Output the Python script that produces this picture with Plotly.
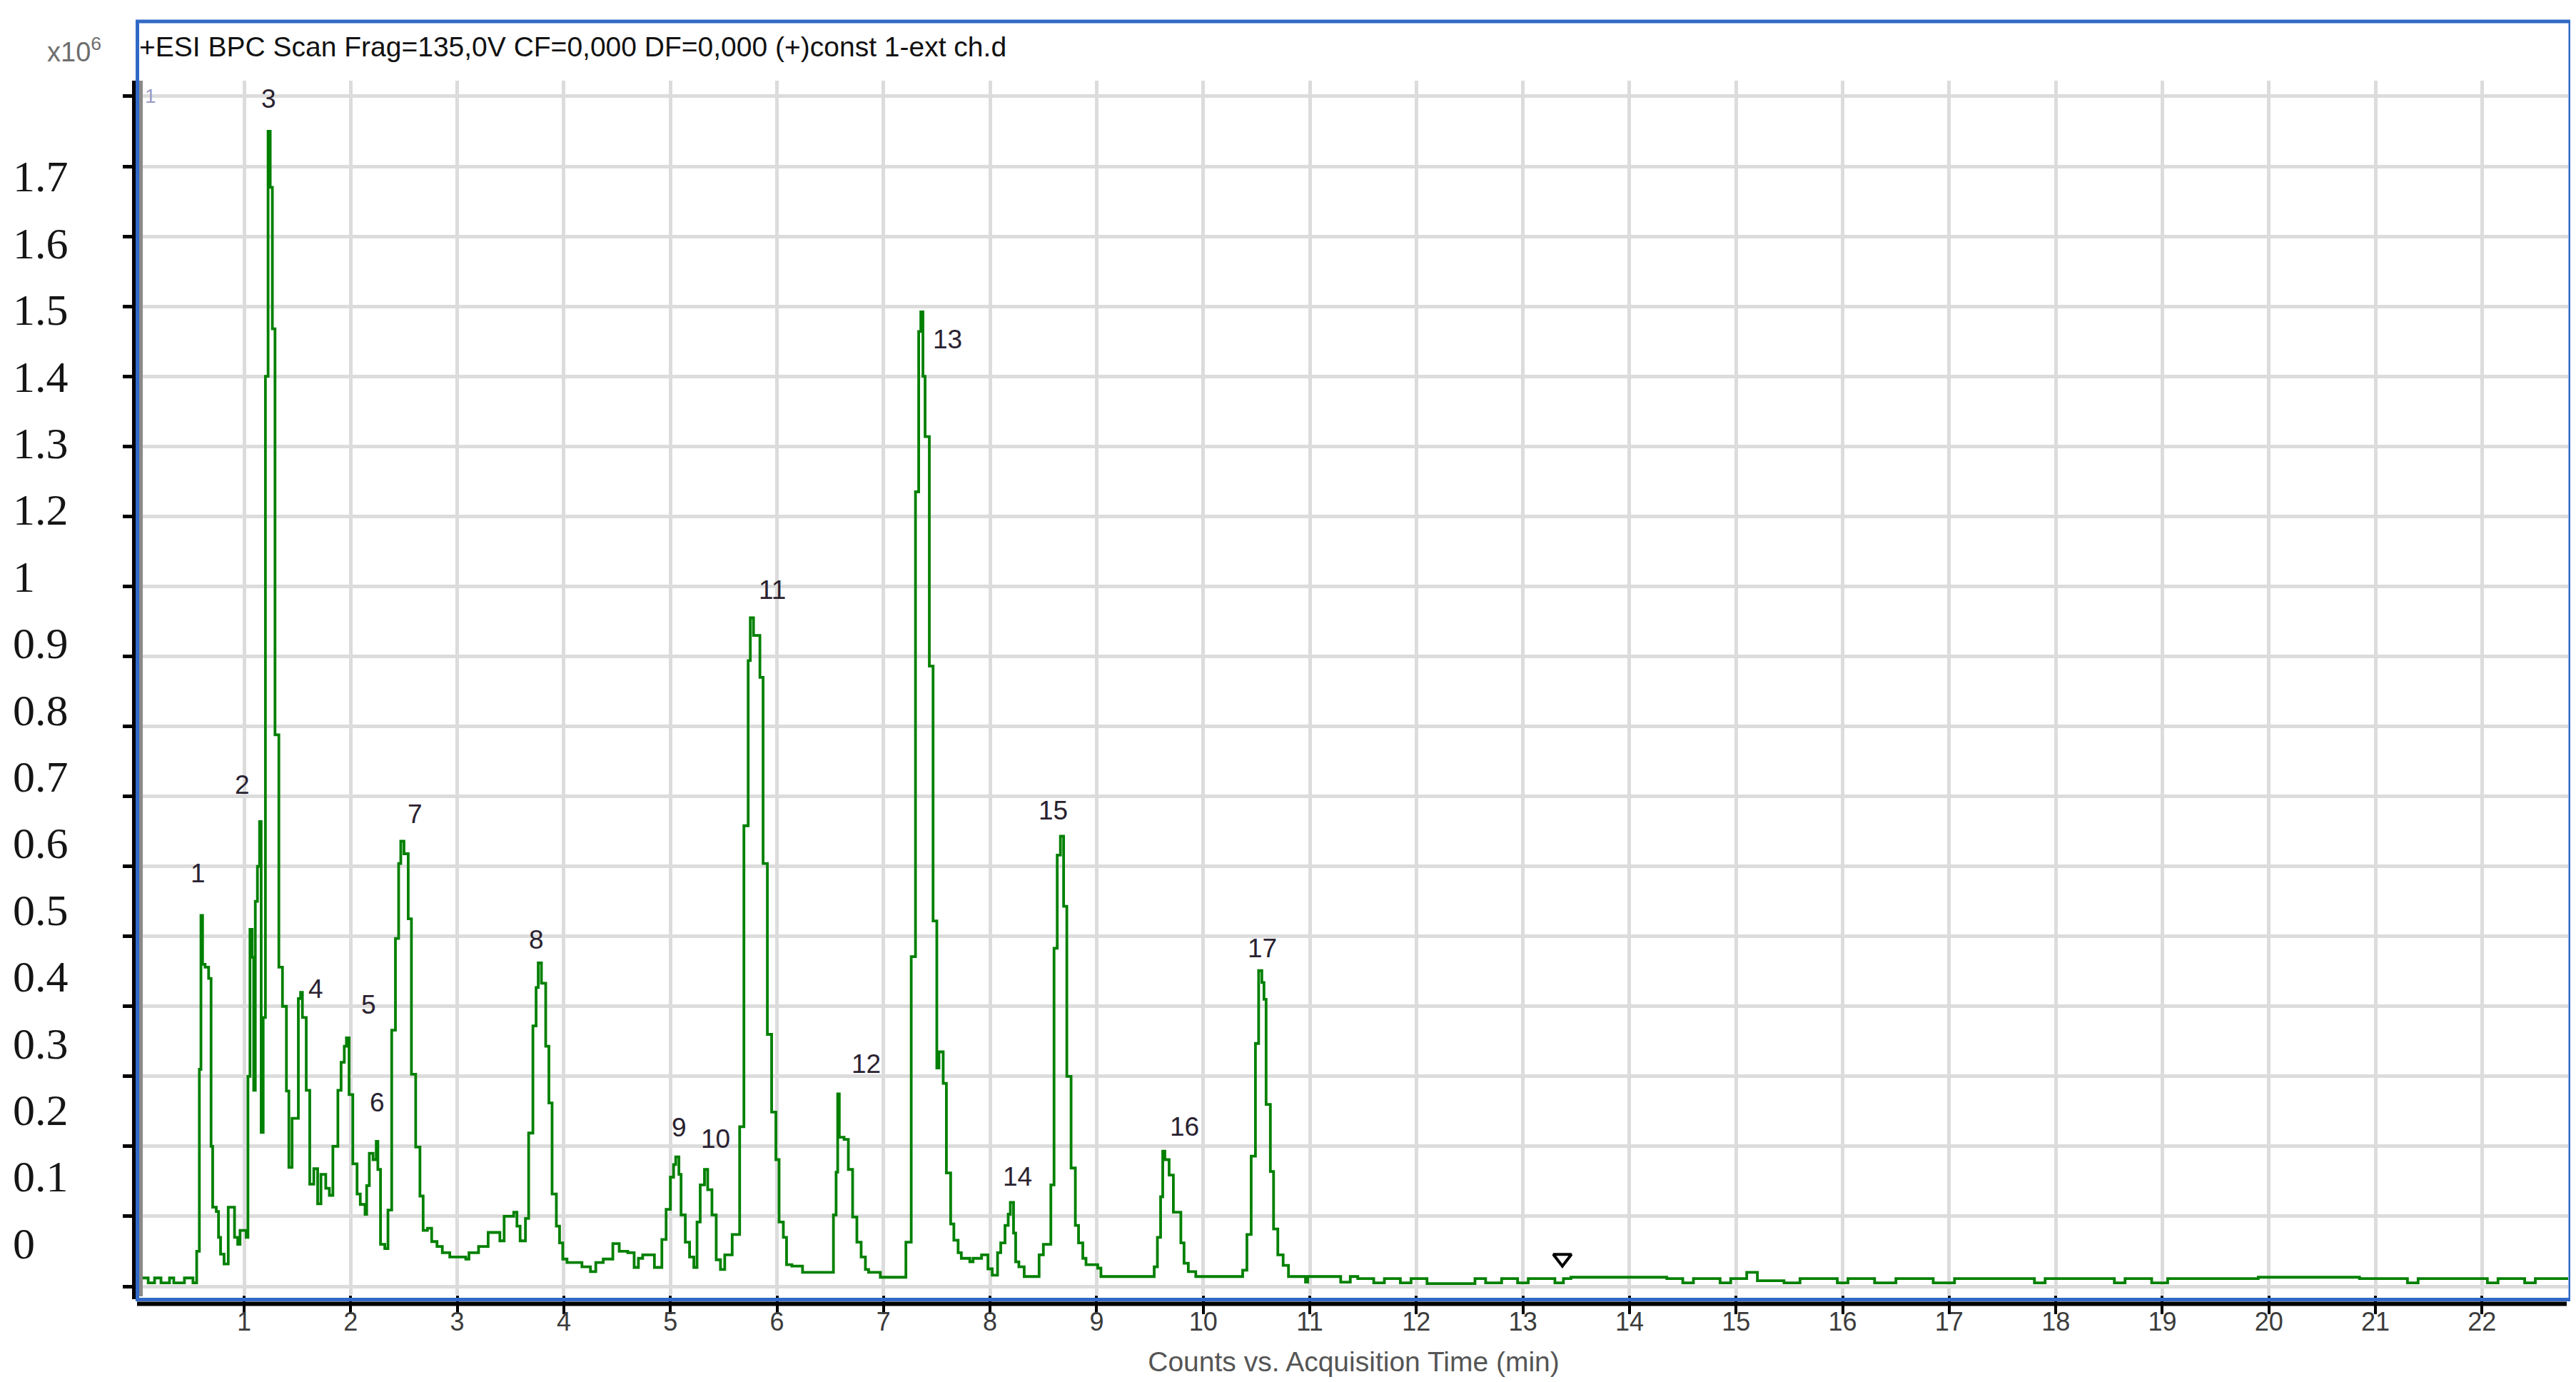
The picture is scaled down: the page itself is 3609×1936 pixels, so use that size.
import plotly.graph_objects as go

# ---------------- data (counts in units of 1e6, time in minutes) ----------------
time_min = [
    0.02, 0.10, 0.16, 0.22, 0.30, 0.34, 0.44, 0.52,
    0.555, 0.58, 0.595, 0.61, 0.634, 0.667, 0.69, 0.705, 0.739, 0.76, 0.779, 0.812,
    0.851, 0.91, 0.94, 0.962, 1.02, 1.036, 1.055, 1.075, 1.09, 1.105, 1.125, 1.145,
    1.16, 1.179, 1.20, 1.225, 1.245, 1.265, 1.29, 1.326, 1.36, 1.397, 1.42, 1.45,
    1.475, 1.509, 1.53, 1.547, 1.583, 1.616, 1.654, 1.69, 1.721, 1.766, 1.80, 1.833,
    1.88, 1.91, 1.94, 1.96, 1.985, 2.02, 2.06, 2.09, 2.135, 2.15, 2.175, 2.21,
    2.24, 2.255, 2.28, 2.32, 2.35, 2.385, 2.42, 2.45, 2.47, 2.50, 2.54, 2.57,
    2.61, 2.65, 2.68, 2.72, 2.76, 2.81, 2.86, 2.93, 3.08, 3.11, 3.20, 3.29,
    3.40, 3.44, 3.53, 3.56, 3.59, 3.64, 3.67, 3.71, 3.74, 3.76, 3.79, 3.83,
    3.86, 3.89, 3.93, 3.96, 3.99, 4.03, 4.17, 4.25, 4.30, 4.37, 4.46, 4.52,
    4.60, 4.66, 4.70, 4.74, 4.82, 4.85, 4.92, 4.96, 5.00, 5.03, 5.05, 5.08,
    5.10, 5.14, 5.18, 5.22, 5.25, 5.28, 5.32, 5.35, 5.39, 5.43, 5.47, 5.51,
    5.58, 5.65, 5.69, 5.73, 5.75, 5.78, 5.84, 5.87, 5.91, 5.95, 5.99, 6.02,
    6.06, 6.09, 6.14, 6.24, 6.49, 6.53, 6.555, 6.57, 6.585, 6.63, 6.67, 6.71,
    6.75, 6.79, 6.83, 6.86, 6.97, 7.21, 7.26, 7.30, 7.33, 7.35, 7.37, 7.39,
    7.43, 7.465, 7.50, 7.52, 7.56, 7.59, 7.63, 7.66, 7.70, 7.73, 7.81, 7.84,
    7.92, 7.98, 8.02, 8.07, 8.10, 8.14, 8.17, 8.19, 8.22, 8.24, 8.27, 8.32,
    8.46, 8.50, 8.57, 8.60, 8.63, 8.66, 8.69, 8.72, 8.76, 8.80, 8.83, 8.87,
    8.90, 9.01, 9.04, 9.54, 9.57, 9.60, 9.62, 9.64, 9.68, 9.72, 9.79, 9.82,
    9.86, 9.93, 10.37, 10.41, 10.45, 10.49, 10.52, 10.55, 10.57, 10.59, 10.63, 10.66,
    10.70, 10.75, 10.80, 10.96, 10.98, 11.29, 11.38, 11.45, 11.60, 11.70, 11.85, 11.95,
    12.10, 12.55, 12.65, 12.80, 12.95, 13.05, 13.30, 13.38, 13.45, 14.35, 14.50, 14.60,
    14.85, 14.95, 15.10, 15.20, 15.45, 15.60, 15.95, 16.05, 16.30, 16.50, 16.85, 17.05,
    17.80, 17.90, 18.55, 18.65, 18.90, 19.05, 19.90, 20.85, 21.30, 21.40, 22.05, 22.15,
    22.40, 22.50, 22.81,
]
counts_1e6 = [
    0.012, 0.005, 0.012, 0.005, 0.012, 0.005, 0.012, 0.005,
    0.050, 0.310, 0.530, 0.460, 0.456, 0.440, 0.200, 0.113, 0.107, 0.070, 0.046, 0.032,
    0.113, 0.070, 0.060, 0.080, 0.070, 0.300, 0.510, 0.470, 0.280, 0.550, 0.600, 0.664,
    0.220, 0.384, 1.300, 1.650, 1.570, 1.368, 0.788, 0.456, 0.400, 0.279, 0.170, 0.240,
    0.240, 0.411, 0.420, 0.384, 0.280, 0.146, 0.168, 0.118, 0.160, 0.140, 0.130, 0.200,
    0.280, 0.320, 0.343, 0.355, 0.274, 0.175, 0.132, 0.117, 0.103, 0.144, 0.190, 0.181,
    0.207, 0.167, 0.060, 0.054, 0.109, 0.366, 0.497, 0.604, 0.636, 0.618, 0.525, 0.303,
    0.199, 0.129, 0.080, 0.083, 0.064, 0.057, 0.048, 0.042, 0.039, 0.048, 0.057, 0.077,
    0.065, 0.100, 0.106, 0.086, 0.065, 0.097, 0.219, 0.372, 0.427, 0.462, 0.433, 0.343,
    0.262, 0.132, 0.086, 0.062, 0.039, 0.034, 0.028, 0.021, 0.034, 0.039, 0.061, 0.050,
    0.048, 0.027, 0.040, 0.045, 0.045, 0.027, 0.067, 0.110, 0.156, 0.174, 0.185, 0.160,
    0.102, 0.063, 0.042, 0.027, 0.092, 0.145, 0.167, 0.138, 0.102, 0.038, 0.024, 0.045,
    0.074, 0.228, 0.658, 0.894, 0.955, 0.930, 0.870, 0.604, 0.360, 0.249, 0.181, 0.092,
    0.070, 0.031, 0.029, 0.020, 0.020, 0.102, 0.163, 0.275, 0.213, 0.210, 0.167, 0.099,
    0.063, 0.042, 0.024, 0.020, 0.013, 0.063, 0.471, 1.135, 1.364, 1.392, 1.300, 1.214,
    0.886, 0.522, 0.312, 0.335, 0.290, 0.162, 0.089, 0.066, 0.048, 0.040, 0.035, 0.040,
    0.045, 0.025, 0.016, 0.048, 0.062, 0.087, 0.103, 0.120, 0.076, 0.035, 0.028, 0.014,
    0.045, 0.060, 0.145, 0.483, 0.616, 0.643, 0.543, 0.300, 0.169, 0.087, 0.062, 0.040,
    0.031, 0.026, 0.014, 0.028, 0.070, 0.128, 0.193, 0.181, 0.159, 0.106, 0.062, 0.033,
    0.021, 0.014, 0.023, 0.074, 0.186, 0.347, 0.451, 0.434, 0.410, 0.260, 0.164, 0.082,
    0.045, 0.030, 0.014, 0.006, 0.014, 0.006, 0.014, 0.011, 0.005, 0.011, 0.005, 0.011,
    0.004, 0.011, 0.005, 0.011, 0.005, 0.011, 0.005, 0.011, 0.013, 0.011, 0.005, 0.011,
    0.005, 0.011, 0.020, 0.008, 0.005, 0.011, 0.005, 0.011, 0.005, 0.011, 0.005, 0.011,
    0.005, 0.011, 0.005, 0.011, 0.005, 0.011, 0.013, 0.011, 0.005, 0.011, 0.005, 0.011,
    0.005, 0.011, 0.011,
]

# peak labels (text placed in data coordinates)
peak_ids = ["1", "2", "3", "4", "5", "6", "7", "8", "9", "10", "11", "12", "13", "14", "15", "16", "17"]
label_time = [0.571, 0.980, 1.228, 1.670, 2.172, 2.246, 2.607, 3.746, 5.079, 5.427,
              5.956, 6.840, 7.598, 8.260, 8.589, 9.821, 10.551]
label_counts = [0.590, 0.716, 1.696, 0.425, 0.402, 0.263, 0.675, 0.495, 0.227, 0.211,
                0.995, 0.318, 1.353, 0.157, 0.680, 0.228, 0.483]

# integration marker
marker_time = [13.37]
marker_counts = [0.040]

# axes
x_tick_values = list(range(1, 23))
y_label_text = ["0", "0.1", "0.2", "0.3", "0.4", "0.5", "0.6", "0.7", "0.8", "0.9",
                "1", "1.2", "1.3", "1.4", "1.5", "1.6", "1.7"]

title_text = "+ESI BPC Scan Frag=135,0V CF=0,000 DF=0,000 (+)const 1-ext ch.d"
x_title = "Counts vs. Acquisition Time (min)"

# ---------------- figure ----------------
W, H = 3609, 1936
SANS = "Liberation Sans, Arial, sans-serif"

fig = go.Figure()
fig.add_trace(go.Scatter(
    x=time_min, y=counts_1e6, mode="lines",
    line=dict(color="#008000", width=3.8, shape="hv"),
    hoverinfo="skip", showlegend=False,
))
fig.add_trace(go.Scatter(
    x=marker_time, y=marker_counts, mode="markers",
    marker=dict(symbol="triangle-down-open", size=22, color="black",
                line=dict(width=4, color="black")),
    hoverinfo="skip", showlegend=False,
))
fig.add_trace(go.Scatter(x=[None], y=[None], yaxis="y2", mode="lines",
                         hoverinfo="skip", showlegend=False))

annotations = []
for txt, tx, ty in zip(peak_ids, label_time, label_counts):
    annotations.append(dict(
        x=tx, y=ty, xref="x", yref="y", text=txt, showarrow=False,
        font=dict(family=SANS, size=37, color="#2a2230"),
        xanchor="center", yanchor="middle",
    ))
annotations += [
    dict(x=185 / W, y=1.0282, xref="paper", yref="paper", text=title_text,
         showarrow=False, xanchor="left", yanchor="middle",
         font=dict(family=SANS, size=39, color="#111111")),
    dict(x=56 / W, y=1.0253, xref="paper", yref="paper", text="x10<sup>6</sup>",
         showarrow=False, xanchor="left", yanchor="middle",
         font=dict(family=SANS, size=38, color="#6e6e6e")),
    dict(x=203 / W, y=0.9871, xref="paper", yref="paper", text="1",
         showarrow=False, xanchor="center", yanchor="middle",
         font=dict(family=SANS, size=28, color="#9a9ac4")),
]

shapes = [
    # blue frame
    dict(type="rect", xref="paper", yref="paper", x0=184.5 / W, x1=3593 / W,
         y0=-0.00382, y1=1.0488, line=dict(color="#3169c6", width=5), layer="above"),
    # black y axis line
    dict(type="line", xref="paper", yref="paper", x0=179.5 / W, x1=179.5 / W,
         y0=-0.00353, y1=1.0, line=dict(color="black", width=5), layer="above"),
    # grey inner line
    dict(type="line", xref="paper", yref="paper", x0=189.5 / W, x1=189.5 / W,
         y0=-0.0012, y1=1.0, line=dict(color="#8a8a8a", width=5), layer="above"),
    # black x axis line
    dict(type="line", xref="paper", yref="paper", x0=184 / W, x1=3588 / W,
         y0=-0.00735, y1=-0.00735, line=dict(color="black", width=6), layer="above"),
]

fig.update_layout(
    width=W, height=H,
    margin=dict(l=0, r=0, t=105, b=130, pad=0),
    paper_bgcolor="white", plot_bgcolor="white",
    showlegend=False,
    annotations=annotations,
    shapes=shapes,
    xaxis=dict(
        domain=[187 / W, 3590 / W], range=[0.0154, 22.808],
        tickmode="array", tickvals=x_tick_values,
        ticks="outside", ticklen=26, tickwidth=4, tickcolor="black",
        ticklabelstandoff=-20,
        showgrid=True, gridcolor="#dcdcdc", gridwidth=5,
        zeroline=False, showline=False, automargin=False,
        tickfont=dict(family=SANS, size=36, color="#3c3c3c"),
        title=dict(text=x_title, font=dict(family=SANS, size=39, color="#555555"),
                   standoff=22),
    ),
    yaxis=dict(
        domain=[0, 1], range=[-0.01224, 1.7224],
        tick0=0, dtick=0.1,
        ticks="outside", ticklen=22, tickwidth=5, tickcolor="black",
        showticklabels=False,
        showgrid=True, gridcolor="#dcdcdc", gridwidth=5,
        zeroline=False, showline=False, automargin=False,
    ),
    yaxis2=dict(
        overlaying="y", anchor="free", position=0, side="left",
        range=[-0.78, 17.43],
        tickmode="array", tickvals=list(range(len(y_label_text))), ticktext=y_label_text,
        ticks="", ticklabelposition="inside", ticklabelstandoff=6,
        showgrid=False, zeroline=False, showline=False, automargin=False,
        tickfont=dict(family="Liberation Serif, Times New Roman, serif", size=62,
                      color="#151515"),
    ),
)

fig.write_html("out.html")
